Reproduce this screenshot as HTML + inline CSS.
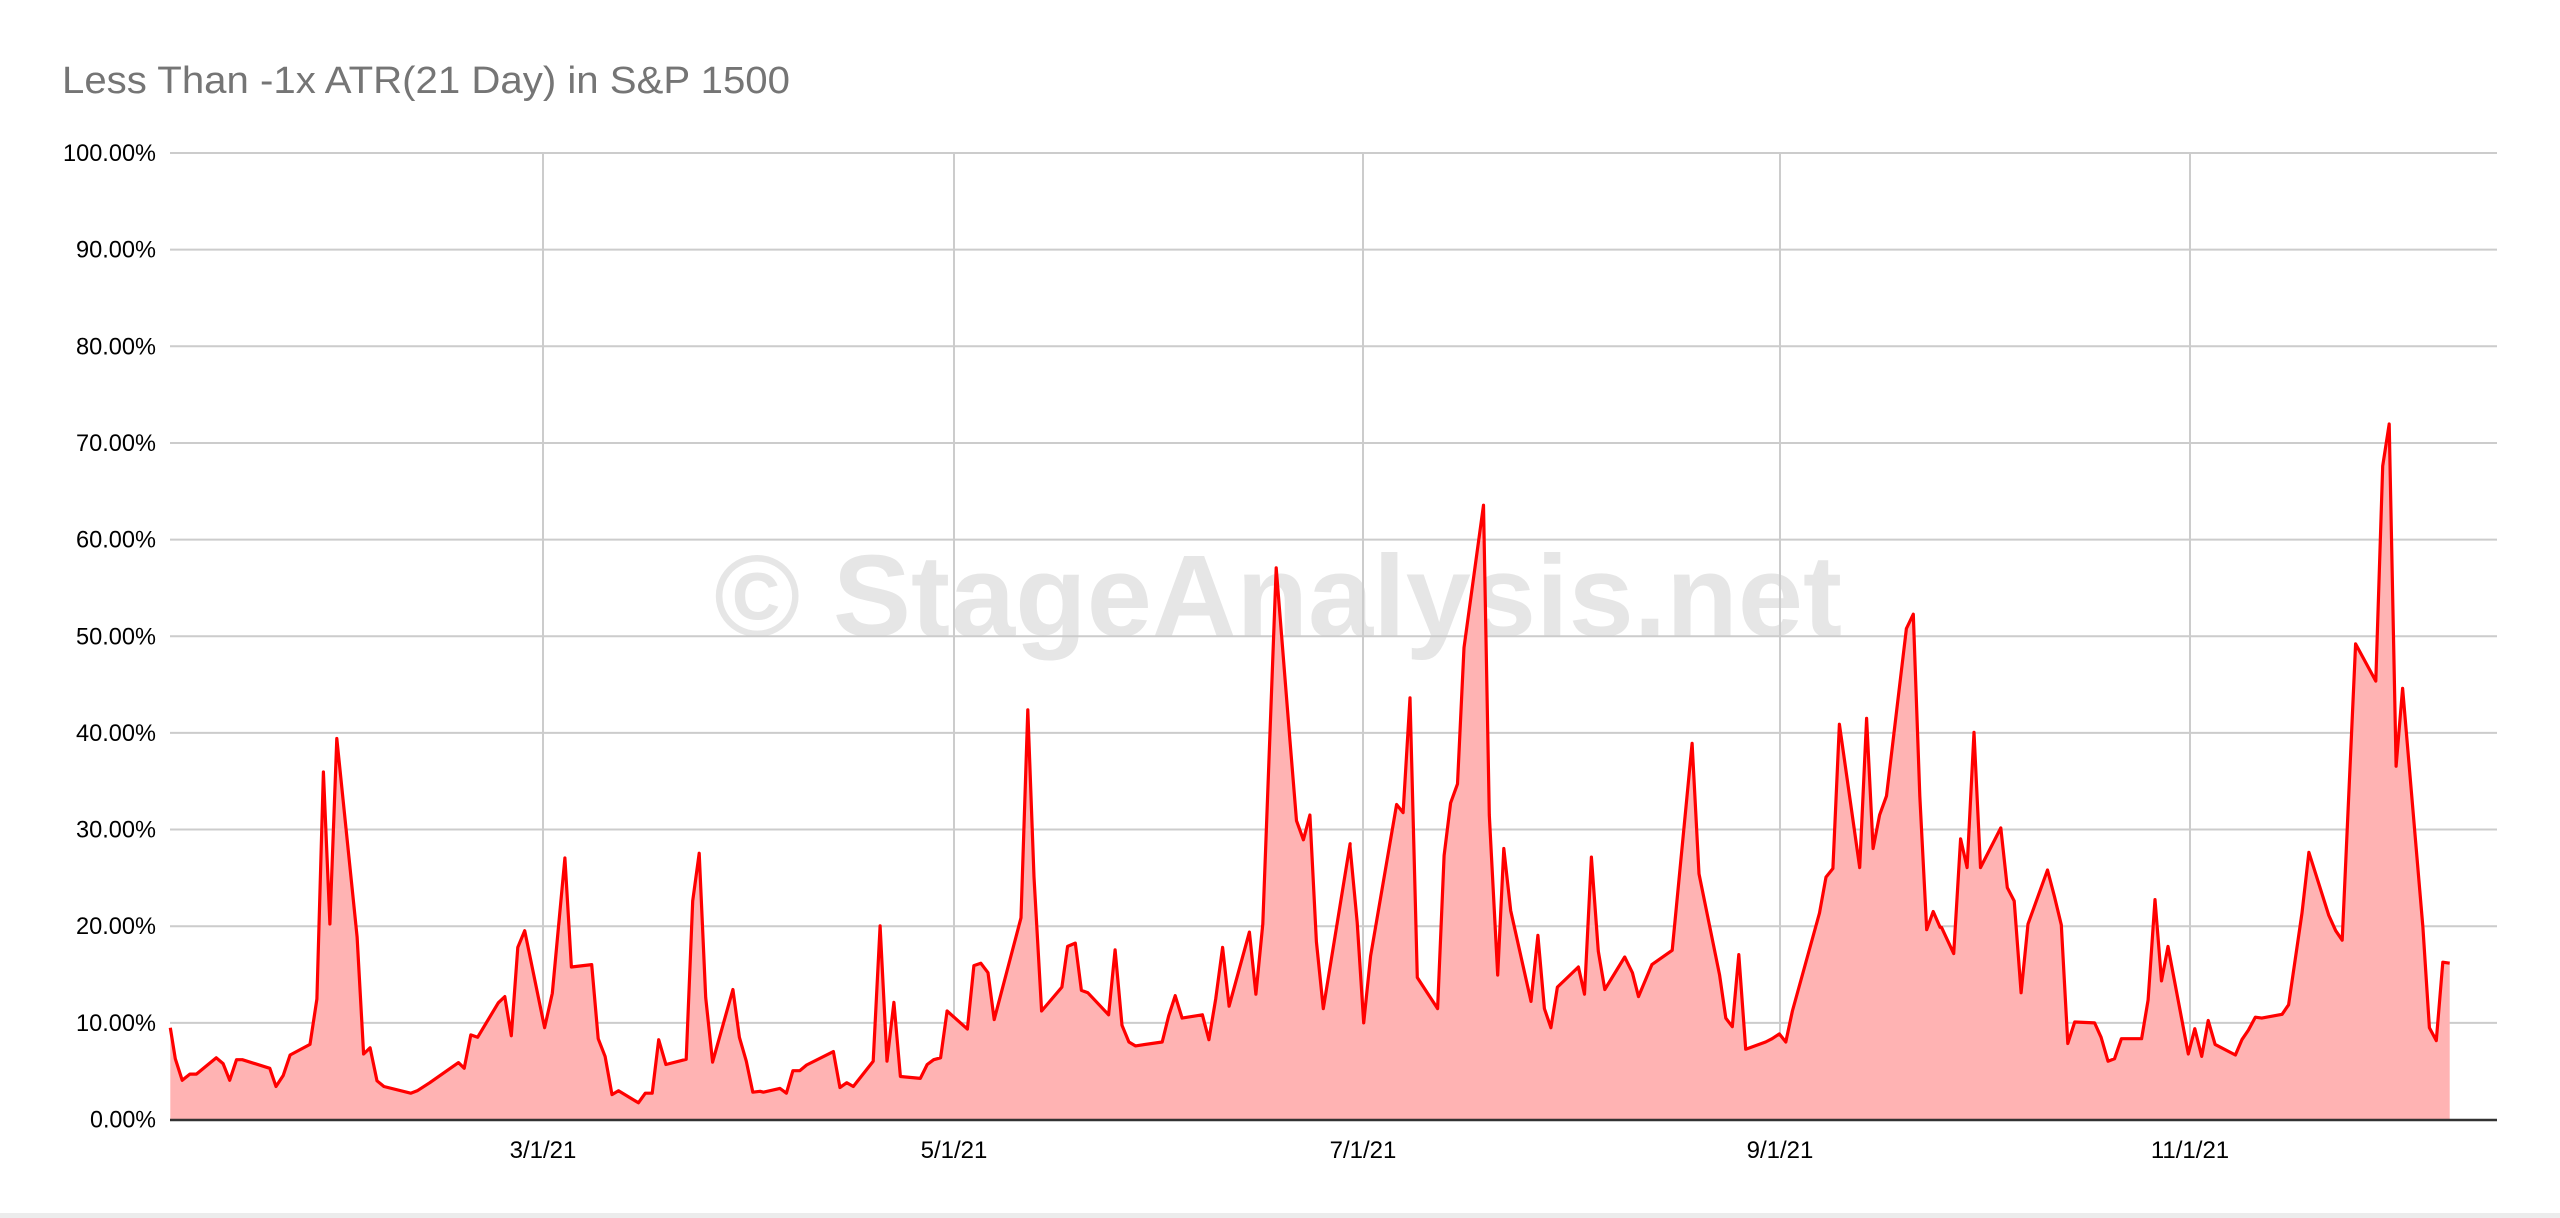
<!DOCTYPE html>
<html><head><meta charset="utf-8"><style>
html,body{margin:0;padding:0;background:#fff;width:2560px;height:1218px;overflow:hidden}
svg{display:block}
text{font-family:"Liberation Sans",Arial,sans-serif}
</style></head><body>
<svg id="c" width="2560" height="1218" xmlns="http://www.w3.org/2000/svg">
<rect x="0" y="0" width="2560" height="1218" fill="#fff"/>
<text x="62" y="93" font-size="38" fill="#757575" textLength="728" lengthAdjust="spacingAndGlyphs">Less Than -1x ATR(21 Day) in S&amp;P 1500</text>
<text x="1278" y="636" font-size="116" font-weight="bold" fill="#e6e6e6" text-anchor="middle" textLength="1128" lengthAdjust="spacingAndGlyphs">© StageAnalysis.net</text>
<g id="grid" stroke="#cccccc" stroke-width="2"></g>
<g id="ylab" font-size="24" fill="#000" text-anchor="end"></g>
<g font-size="24" fill="#000" text-anchor="middle">
<text x="543" y="1158">3/1/21</text>
<text x="954" y="1158">5/1/21</text>
<text x="1363" y="1158">7/1/21</text>
<text x="1780" y="1158">9/1/21</text>
<text x="2190" y="1158">11/1/21</text>
</g>
<path id="area" fill="#ffb3b3" stroke="none"/>
<path id="line" fill="none" stroke="#ff0000" stroke-width="3.2" stroke-linejoin="round"/>
<line x1="170" y1="1120" x2="2497" y2="1120" stroke="#333" stroke-width="2.5"/>
<rect x="0" y="1213" width="2560" height="5" fill="#ececec"/>
</svg>
<script>
(function(){
var NS="http://www.w3.org/2000/svg";
var g=document.getElementById('grid'),yl=document.getElementById('ylab');
for(var i=0;i<=10;i++){
 var y=1119.5-i*96.65;
 if(i>0){var l=document.createElementNS(NS,'line');l.setAttribute('x1',170);l.setAttribute('x2',2497);l.setAttribute('y1',y);l.setAttribute('y2',y);g.appendChild(l);}
 var t=document.createElementNS(NS,'text');t.setAttribute('x',156);t.setAttribute('y',y+8);
 var s=(i*10)+'.00%';t.textContent=s;t.setAttribute('textLength',s.length==7?93:(s.length==6?80:66));t.setAttribute('lengthAdjust','spacingAndGlyphs');yl.appendChild(t);
}
[543,954,1363,1780,2190].forEach(function(x){var l=document.createElementNS(NS,'line');l.setAttribute('x1',x);l.setAttribute('x2',x);l.setAttribute('y1',153);l.setAttribute('y2',1119);g.appendChild(l);});
var chunks=[
[160,[[27,1355],[40,1420],[58,1465],[78,1452],[95,1452],[147,1418],[165,1430],[182,1465],[200,1422],[215,1422],[287,1440],[303,1478],[322,1455],[340,1412],[392,1390],[410,1295],[427,820],[444,1138],[462,750],[515,1165],[532,1410],[549,1397],[567,1466],[585,1478],[655,1492],[672,1487],[705,1470],[780,1428],[795,1440],[812,1370],[830,1375],[884,1303],[901,1290],[918,1372],[935,1187],[953,1152],[1005,1355],[1025,1283],[1058,1000],[1075,1228],[1128,1223],[1145,1378],[1163,1415],[1181,1495],[1198,1487],[1250,1512],[1268,1492],[1286,1492],[1303,1380],[1322,1432],[1375,1421],[1392,1090],[1409,990],[1426,1292],[1444,1427],[1497,1275],[1514,1375],[1532,1425],[1549,1490],[1568,1488]]],
[750,[[35,1490],[78,1482],[95,1492],[112,1445],[130,1445],[148,1433],[218,1405],[235,1480],[253,1470],[270,1478],[322,1425],[340,1142],[358,1425],[376,1302],[393,1457],[445,1461],[463,1432],[480,1422],[498,1418],[515,1320],[568,1358],[585,1225],[603,1220],[622,1240],[638,1338],[708,1125],[726,690],[742,1040],[762,1320],[815,1270],[830,1185],[850,1178],[866,1277],[883,1282],[937,1328],[954,1192],[972,1350],[990,1385],[1007,1393],[1077,1385],[1094,1330],[1111,1288],[1129,1335],[1182,1328],[1199,1380],[1217,1295],[1235,1187],[1252,1310],[1305,1155],[1322,1285],[1340,1138],[1375,393],[1410,745],[1428,922],[1446,962],[1463,910],[1480,1175],[1498,1315],[1568,970]]],
[1340,[[26,975],[45,1135],[62,1345],[80,1205],[148,888],[165,905],[183,665],[202,1250],[255,1315],[272,995],[289,885],[307,845],[324,560],[375,262],[390,910],[412,1245],[428,980],[446,1110],[499,1300],[517,1162],[534,1315],[551,1355],[568,1270],[623,1228],[639,1285],[657,998],[675,1195],[692,1275],[744,1207],[764,1240],[780,1290],[815,1223],[868,1193],[920,760],[938,1033],[992,1245],[1008,1335],[1025,1353],[1042,1202],[1060,1400],[1112,1385],[1129,1378],[1148,1368],[1165,1385],[1182,1320],[1253,1115],[1270,1040],[1288,1022],[1305,720],[1358,1020],[1376,708],[1393,980],[1410,910],[1428,870],[1480,520],[1498,490],[1515,870],[1533,1150],[1550,1112],[1568,1145]]],
[1930,[[30,1145],[62,1200],[80,960],[97,1020],[115,737],[132,1020],[185,937],[202,1062],[220,1090],[238,1282],[256,1138],[307,1025],[325,1080],[343,1140],[360,1388],[378,1343],[430,1345],[447,1375],[465,1425],[482,1420],[500,1378],[553,1378],[570,1297],[588,1087],[605,1257],[622,1185],[675,1410],[692,1357],[710,1415],[727,1340],[745,1390],[798,1412],[815,1380],[832,1360],[850,1333],[867,1335],[920,1327],[937,1307],[972,1115],[990,988],[1042,1120],[1060,1152],[1077,1172],[1112,552],[1165,630],[1183,180],[1200,92],[1218,808],[1235,645],[1288,1145],[1305,1355],[1323,1382],[1340,1218],[1358,1220]]]
];
var pts=[];
chunks.forEach(function(c){c[1].forEach(function(p){pts.push([c[0]+p[0]/2.613,380+p[1]/2.092]);});});
var d='M'+pts.map(function(p){return p[0].toFixed(1)+','+p[1].toFixed(1);}).join('L');
document.getElementById('line').setAttribute('d',d);
var a=d+'L'+pts[pts.length-1][0].toFixed(1)+',1119.5L'+pts[0][0].toFixed(1)+',1119.5Z';
document.getElementById('area').setAttribute('d',a);
})();
</script>
</body></html>
